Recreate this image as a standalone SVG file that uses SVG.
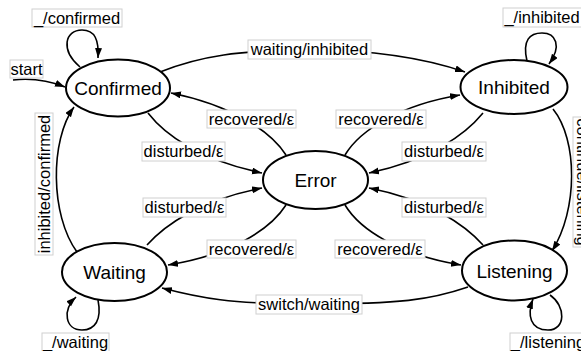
<svg xmlns="http://www.w3.org/2000/svg" width="581" height="351" viewBox="0 0 581 351">
<defs>
<marker id="arr" markerUnits="userSpaceOnUse" markerWidth="11" markerHeight="8" refX="10" refY="3.5" orient="auto"><path d="M0,0 L10,3.5 L0,7 z" fill="#000"/></marker>
<style>
.node ellipse{fill:#fff;stroke:#000;stroke-width:2}
.node text{font-family:"Liberation Sans",Arial,sans-serif;font-size:19px;text-anchor:middle;fill:#000}
.edge path{fill:none;stroke:#000;stroke-width:1.6;marker-end:url(#arr)}
.lbl rect{fill:#fff;stroke:#d0d0d0;stroke-width:1}
.lbl text{font-family:"Liberation Sans",Arial,sans-serif;font-size:16.5px;text-anchor:middle;fill:#000}
</style>
</defs>
<rect width="581" height="351" fill="#fff"/>
<g id="connectors" class="edge">
<path d="M13,80 Q40,77 65,87"/>
<path d="M80,67 C60,50 65,30 82,30 C95,30 99,40 98,58"/>
<path d="M160,72 C200,56 240,50 310,50 C380,50 430,60 465,72"/>
<path d="M527,61 C522,40 530,33 542,33 C556,33 562,46 549,64"/>
<path d="M553,109 C578,140 578,210 552,251"/>
<path d="M77,252 C50,215 50,140 74,107"/>
<path d="M98,300 C102,320 95,330 82,330 C65,330 62,310 76,297"/>
<path d="M550,295 C566,306 566,330 548,330 C530,330 527,315 533,299"/>
<path d="M468,287 C430,300 400,304 310,304 C230,304 200,298 162,288"/>
<path d="M286,155 C270,130 230,105 171,93"/>
<path d="M148,113 C165,135 200,160 262,173"/>
<path d="M345,155 C360,130 400,105 460,95"/>
<path d="M483,113 C465,135 430,160 369,173"/>
<path d="M147,245 C165,225 200,200 262,188"/>
<path d="M286,205 C270,230 230,255 168,265"/>
<path d="M483,245 C465,225 430,200 369,188"/>
<path d="M345,205 C360,230 400,255 461,265"/>
</g>
<g id="labels" class="lbl">
<rect x="32" y="9" width="90" height="18"/><text x="77" y="24">_/confirmed</text>
<rect x="10" y="60" width="33" height="18"/><text x="26.5" y="74.5">start</text>
<rect x="248" y="40" width="123" height="19"/><text x="309.5" y="55">waiting/inhibited</text>
<rect x="503" y="8" width="80" height="19"/><text x="542" y="23">_/inhibited</text>
<rect x="207" y="110" width="89" height="18"/><text x="251.5" y="124.5">recovered/ε</text>
<rect x="336" y="110" width="90" height="18"/><text x="381" y="124.5">recovered/ε</text>
<rect x="142" y="142" width="83" height="19"/><text x="183.5" y="157">disturbed/ε</text>
<rect x="402" y="142" width="84" height="19"/><text x="444" y="157">disturbed/ε</text>
<rect x="143" y="198" width="83" height="19"/><text x="184.5" y="213">disturbed/ε</text>
<rect x="402" y="198" width="84" height="19"/><text x="444" y="213">disturbed/ε</text>
<rect x="207" y="240" width="89" height="18"/><text x="251.5" y="254.5">recovered/ε</text>
<rect x="335" y="240" width="90" height="18"/><text x="380" y="254.5">recovered/ε</text>
<rect x="256" y="295" width="106" height="19"/><text x="309" y="310">switch/waiting</text>
<rect x="42" y="333" width="67" height="19"/><text x="75.5" y="348">_/waiting</text>
<rect x="510" y="333" width="78" height="19"/><text x="548" y="348">_/listening</text>
<g transform="translate(44,184) rotate(-90)"><rect x="-71" y="-9" width="142" height="18"/><text x="0" y="5.5">inhibited/confirmed</text></g>
<g transform="translate(582,182) rotate(90)"><rect x="-65" y="-9" width="130" height="18"/><text x="0" y="5.5">continue/listening</text></g>
</g>
<g id="node-confirmed" class="node"><ellipse cx="118" cy="88" rx="52" ry="28.5"/><text x="118" y="95">Confirmed</text></g>
<g id="node-inhibited" class="node"><ellipse cx="514" cy="87" rx="53.5" ry="27"/><text x="514" y="94">Inhibited</text></g>
<g id="node-error" class="node"><ellipse cx="315.5" cy="180" rx="52.5" ry="29"/><text x="315.5" y="187">Error</text></g>
<g id="node-waiting" class="node"><ellipse cx="114.5" cy="272" rx="52.5" ry="29"/><text x="114.5" y="279">Waiting</text></g>
<g id="node-listening" class="node"><ellipse cx="514.5" cy="270.5" rx="52.5" ry="30"/><text x="514.5" y="277.5">Listening</text></g>
</svg>
